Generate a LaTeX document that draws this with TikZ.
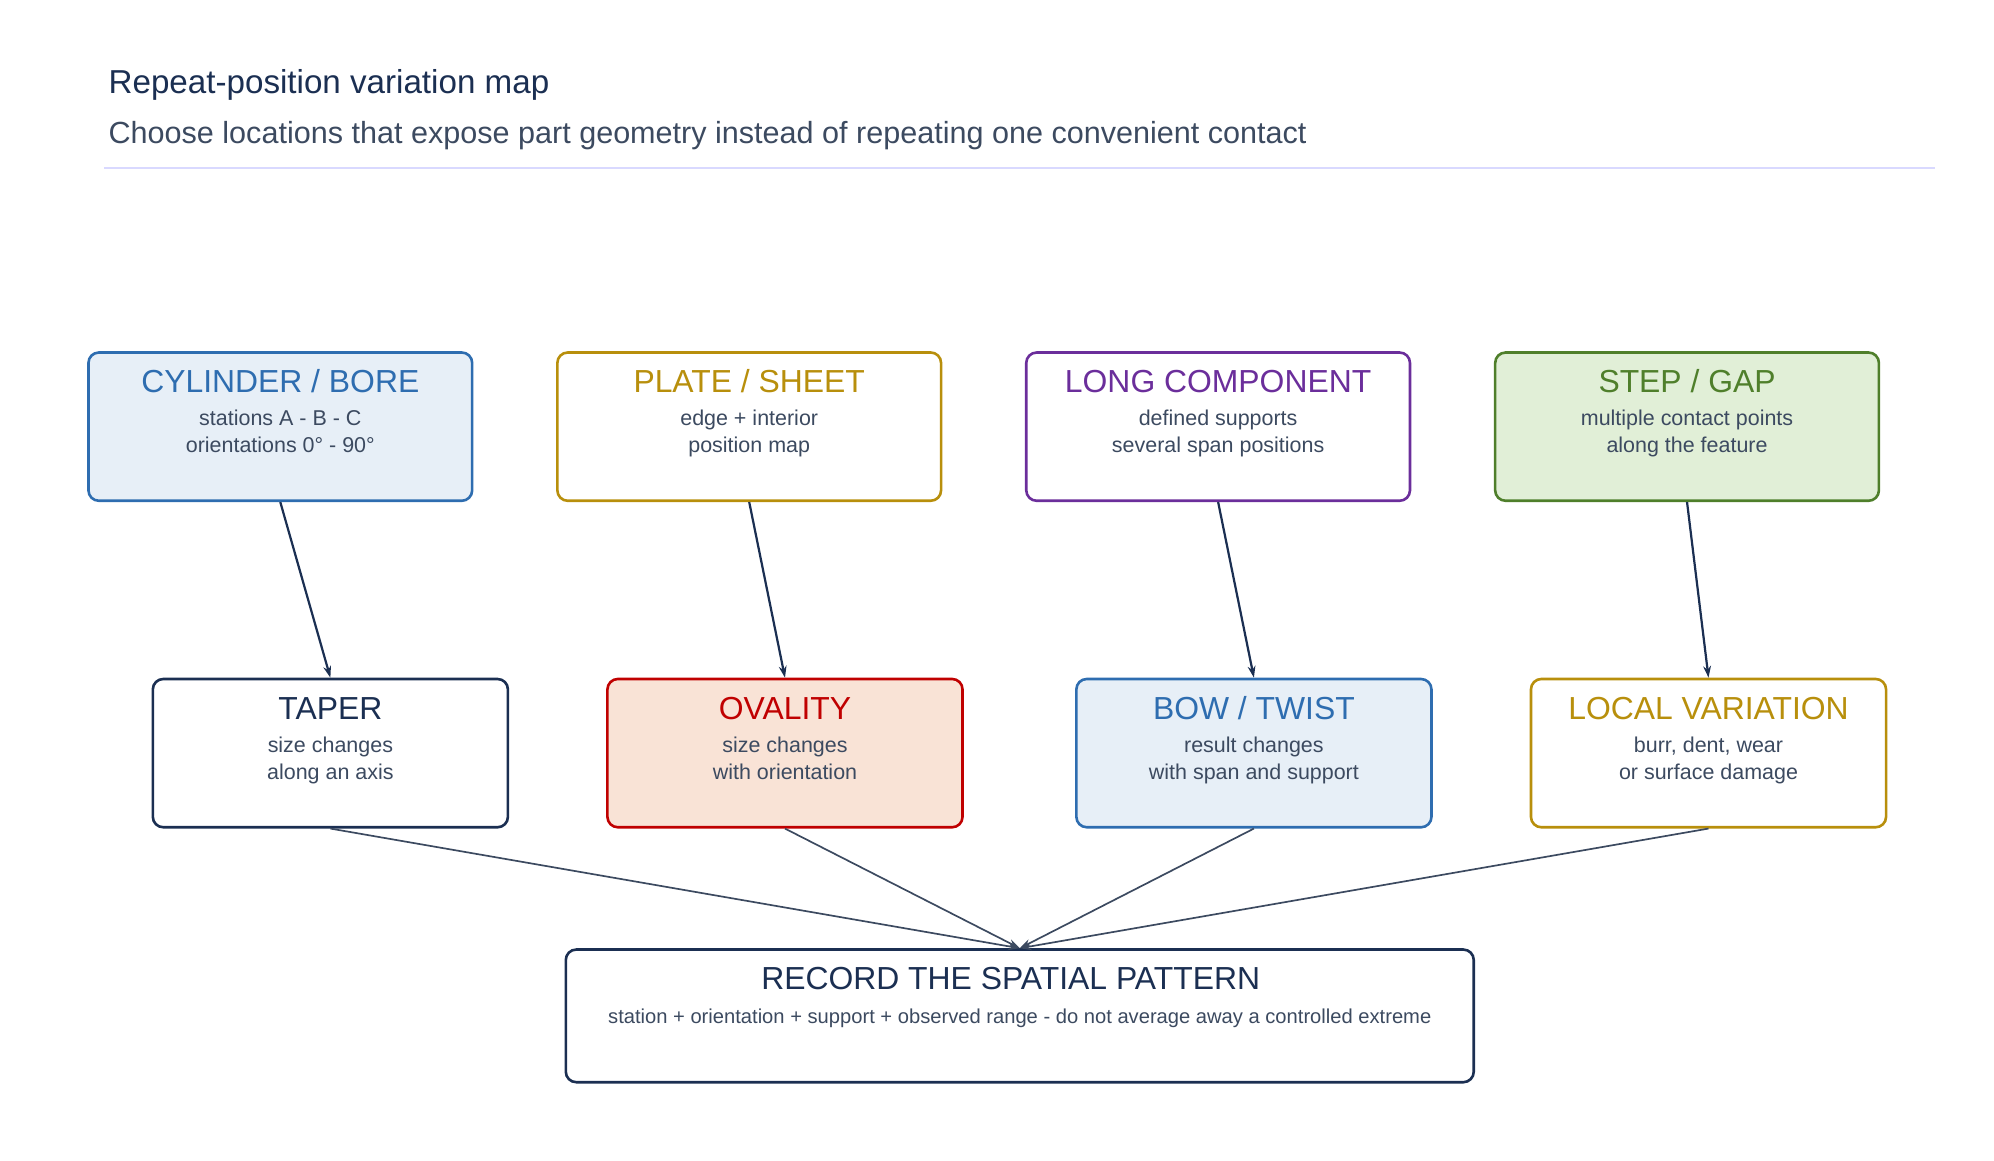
\documentclass[tikz,border=0pt]{standalone}
\usepackage{fontspec}
\setmainfont{Liberation Sans}
\usetikzlibrary{arrows.meta}
\definecolor{navy}{HTML}{1B2F52}
\definecolor{slate}{HTML}{3C4A60}
\definecolor{cblue}{HTML}{2E6DB0}
\definecolor{fblue}{HTML}{E7EFF7}
\definecolor{cgold}{HTML}{B88F0C}
\definecolor{cpurp}{HTML}{6B2E9B}
\definecolor{cgreen}{HTML}{4F7F2B}
\definecolor{fgreen}{HTML}{E1EFD7}
\definecolor{cred}{HTML}{C00000}
\definecolor{fred}{HTML}{F9E3D6}
\begin{document}
\begin{tikzpicture}[x=1pt,y=-1pt,
 box/.style={draw,line width=2pt,rounded corners=8pt,minimum width=295pt,minimum height=114pt,anchor=center},
 box2/.style={box,minimum width=273pt},
 ttl/.style={font=\fontsize{24.5}{28}\selectfont,anchor=base},
 body/.style={font=\fontsize{16.5}{20.5}\selectfont,text=slate,align=center,anchor=north},
 arr/.style={-{Stealth[length=9pt,width=6pt]},line width=1.7pt,draw=navy},
 arr2/.style={-{Stealth[length=9pt,width=6pt]},line width=1.3pt,draw=slate}]
\useasboundingbox (0,0) rectangle (1533,892);
\node[anchor=base west,text=navy,font=\fontsize{25.5}{28}\selectfont] (t) at (80,72) {Repeat-position variation map};
\node[anchor=base west,text=slate,font=\fontsize{23.5}{26}\selectfont] (s) at (80,110) {Choose locations that expose part geometry instead of repeating one convenient contact};
\draw[draw=blue!15,line width=1.3pt] (80,129) -- (1488,129);
% row 1
\node[box,draw=cblue,fill=fblue] (a1) at (215.5,328) {};
\node[box,draw=cgold,fill=white] (b1) at (576,328) {};
\node[box,draw=cpurp,fill=white] (c1) at (936.5,328) {};
\node[box,draw=cgreen,fill=fgreen] (d1) at (1297,328) {};
% row 2
\node[box2,draw=navy,fill=white] (a2) at (254,579) {};
\node[box2,draw=cred,fill=fred] (b2) at (603.5,579) {};
\node[box2,draw=cblue,fill=fblue] (c2) at (964,579) {};
\node[box2,draw=cgold,fill=white] (d2) at (1313.5,579) {};
% bottom
\node[box,draw=navy,fill=white,minimum width=698pt,minimum height=102pt] (r) at (784,781) {};
% texts
\node[ttl,text=cblue] at (215.5,302) {CYLINDER / BORE};
\node[body] at (215.5,312) {stations A - B - C\\orientations 0° - 90°};
\node[ttl,text=cgold] at (576,302) {PLATE / SHEET};
\node[body] at (576,312) {edge + interior\\position map};
\node[ttl,text=cpurp] at (936.5,302) {LONG COMPONENT};
\node[body] at (936.5,312) {defined supports\\several span positions};
\node[ttl,text=cgreen] at (1297,302) {STEP / GAP};
\node[body] at (1297,312) {multiple contact points\\along the feature};
\node[ttl,text=navy] at (254,553) {TAPER};
\node[body] at (254,563) {size changes\\along an axis};
\node[ttl,text=cred] at (603.5,553) {OVALITY};
\node[body] at (603.5,563) {size changes\\with orientation};
\node[ttl,text=cblue] at (964,553) {BOW / TWIST};
\node[body] at (964,563) {result changes\\with span and support};
\node[ttl,text=cgold] at (1313.5,553) {LOCAL VARIATION};
\node[body] at (1313.5,563) {burr, dent, wear\\or surface damage};
\node[ttl,text=navy] at (777,761) {RECORD THE SPATIAL PATTERN};
\node[body,font=\fontsize{15.5}{18}\selectfont] at (784,772) {station + orientation + support + observed range - do not average away a controlled extreme};
% arrows
\draw[arr] (a1.south) -- (a2.north);
\draw[arr] (b1.south) -- (b2.north);
\draw[arr] (c1.south) -- (c2.north);
\draw[arr] (d1.south) -- (d2.north);
\draw[arr2] (a2.south) -- (r.north);
\draw[arr2] (b2.south) -- (r.north);
\draw[arr2] (c2.south) -- (r.north);
\draw[arr2] (d2.south) -- (r.north);
\end{tikzpicture}
\end{document}
